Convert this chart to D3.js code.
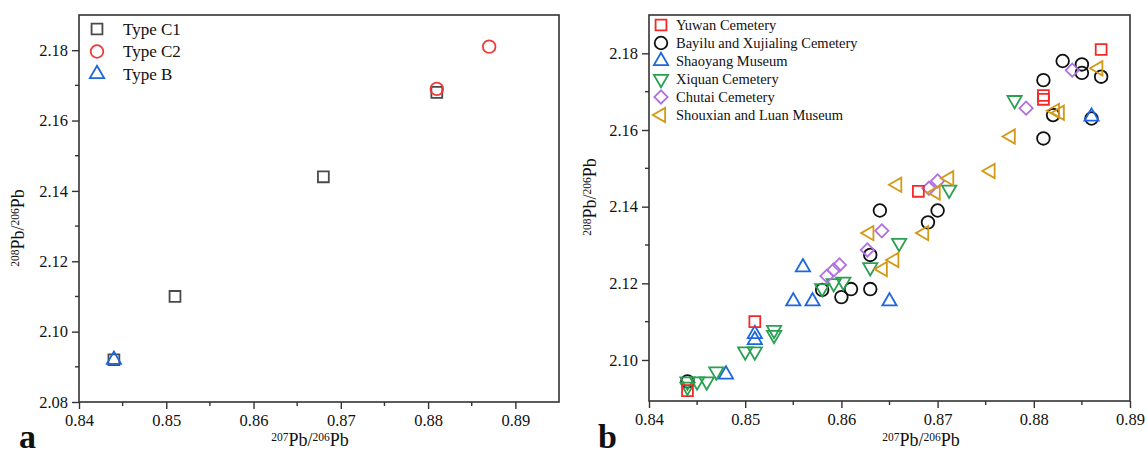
<!DOCTYPE html>
<html>
<head>
<meta charset="utf-8">
<script src="https://cdn.jsdelivr.net/npm/d3@7"></script>
<style>
  body { margin: 0; background: #fff; }
  text { font-family: "Liberation Serif", "Times New Roman", serif; fill: #111; }
</style>
</head>
<body>
<svg id="chart" width="1148" height="457"></svg>
<script>
// ---- panel a : types ----
const typeC1 = [[0.844, 2.092], [0.851, 2.110], [0.868, 2.144], [0.881, 2.168]];
const typeC2 = [[0.881, 2.169], [0.887, 2.181]];
const typeB  = [[0.844, 2.092]];

// ---- panel b : sites ----
const yuwan = [[0.844, 2.092], [0.851, 2.110], [0.868, 2.144], [0.881, 2.168], [0.881, 2.169], [0.887, 2.181]];
const bayilu = [[0.844, 2.0944], [0.858, 2.1183], [0.860, 2.1164], [0.861, 2.1185], [0.863, 2.1185], [0.863, 2.1274],
  [0.864, 2.139], [0.869, 2.1359], [0.870, 2.139], [0.881, 2.1578], [0.882, 2.1639], [0.886, 2.163],
  [0.881, 2.173], [0.883, 2.178], [0.885, 2.1771], [0.885, 2.1749], [0.887, 2.1739]];
const shaoyang = [[0.848, 2.0962], [0.851, 2.1052], [0.851, 2.1068], [0.855, 2.1153], [0.857, 2.1153],
  [0.856, 2.1242], [0.865, 2.1153], [0.886, 2.1635]];
const xiquan = [[0.844, 2.093], [0.844, 2.0944], [0.845, 2.0944], [0.846, 2.0944], [0.847, 2.097],
  [0.850, 2.1022], [0.851, 2.1022], [0.853, 2.1065], [0.853, 2.1078], [0.858, 2.1187], [0.8592, 2.12],
  [0.8602, 2.1204], [0.863, 2.1242], [0.866, 2.1305], [0.8712, 2.1444], [0.878, 2.1678]];
const chutai = [[0.8585, 2.1219], [0.8592, 2.1235], [0.8598, 2.1248], [0.8627, 2.1287], [0.8642, 2.1337],
  [0.8691, 2.1448], [0.870, 2.1467], [0.8792, 2.1657], [0.884, 2.1756]];
const shouxian = [[0.8629, 2.1331], [0.8643, 2.1237], [0.8655, 2.1261], [0.8658, 2.1457], [0.8686, 2.1331],
  [0.8698, 2.1437], [0.8712, 2.1474], [0.8755, 2.1493], [0.8776, 2.1583], [0.8822, 2.165], [0.8827, 2.1645],
  [0.8867, 2.1761]];

const xTicks = [0.84, 0.85, 0.86, 0.87, 0.88, 0.89];
const xMinor = [0.845, 0.855, 0.865, 0.875, 0.885];
const yTicks = [2.08, 2.10, 2.12, 2.14, 2.16, 2.18];
const yMinor = [2.09, 2.11, 2.13, 2.15, 2.17];

const svg = d3.select("#chart");
const serif = "Liberation Serif";

// marker shapes
const shapes = {
  square:   { type: d3.symbolSquare,   size: 118, rot: 0 },
  circle:   { type: d3.symbolCircle,   size: 125, rot: 0 },
  up:       { type: d3.symbolTriangle, size: 88,  rot: 0 },
  down:     { type: d3.symbolTriangle, size: 88,  rot: 180 },
  left:     { type: d3.symbolTriangle, size: 88,  rot: -90 },
  diamond:  { type: d3.symbolSquare,   size: 88,  rot: 45 }
};

function marker(g, shape, color, x, y) {
  const s = shapes[shape];
  g.append("path")
    .attr("d", d3.symbol().type(s.type).size(s.size)())
    .attr("transform", `translate(${x},${y}) rotate(${s.rot})`)
    .attr("fill", "none")
    .attr("stroke", color)
    .attr("stroke-width", 1.8);
}

function pbLabel(g, top, x, y, rotate, size) {
  const t = g.append("text")
    .attr("transform", `translate(${x},${y})` + (rotate ? " rotate(-90)" : ""))
    .attr("text-anchor", "middle")
    .style("font-size", size + "px");
  t.append("tspan").style("font-size", (size * 0.64) + "px").attr("baseline-shift", "45%").text(top);
  t.append("tspan").text("Pb/");
  t.append("tspan").style("font-size", (size * 0.64) + "px").attr("baseline-shift", "45%").text("206");
  t.append("tspan").text("Pb");
}

function panel(cfg) {
  const x = d3.scaleLinear().domain(cfg.xDomain).range([cfg.left, cfg.right]);
  const y = d3.scaleLinear().domain(cfg.yDomain).range([cfg.bottom, cfg.top]);
  const g = svg.append("g");

  // minor ticks
  g.append("g").selectAll("line").data(xMinor).enter().append("line")
    .attr("x1", d => x(d)).attr("x2", d => x(d))
    .attr("y1", cfg.bottom).attr("y2", cfg.bottom + 4)
    .attr("stroke", "#333").attr("stroke-width", 1.4);
  g.append("g").selectAll("line").data(yMinor.filter(d => d > cfg.yDomain[0] + 0.002)).enter().append("line")
    .attr("y1", d => y(d)).attr("y2", d => y(d))
    .attr("x1", cfg.left).attr("x2", cfg.left - 4)
    .attr("stroke", "#333").attr("stroke-width", 1.4);

  const xAxis = g.append("g").attr("transform", `translate(0,${cfg.bottom})`)
    .call(d3.axisBottom(x).tickValues(xTicks).tickFormat(d3.format(".2f")).tickSize(7).tickPadding(5));
  const yAxis = g.append("g").attr("transform", `translate(${cfg.left},0)`)
    .call(d3.axisLeft(y).tickValues(yTicks.filter(d => d >= cfg.yDomain[0])).tickFormat(d3.format(".2f")).tickSize(7).tickPadding(4));
  [xAxis, yAxis].forEach(a => {
    a.attr("font-family", serif).attr("font-size", 16.5);
    a.select(".domain").remove();
    a.selectAll("line").attr("stroke", "#333").attr("stroke-width", 1.4);
    a.selectAll("text").attr("fill", "#111").attr("font-family", serif)
      .style("font-family", serif).style("font-size", "16.5px");
  });

  // frame
  g.append("rect")
    .attr("x", cfg.left).attr("y", cfg.top)
    .attr("width", cfg.right - cfg.left).attr("height", cfg.bottom - cfg.top)
    .attr("fill", "none").attr("stroke", "#333").attr("stroke-width", 1.6);

  cfg.series.forEach(s => {
    s.data.forEach(d => marker(g, s.shape, s.color, x(d[0]), y(d[1])));
  });

  // legend
  cfg.legend.forEach((s, i) => {
    const ly = cfg.legendY + i * cfg.legendStep;
    marker(g, s.shape, s.color, cfg.legendX, ly);
    g.append("text").attr("x", cfg.legendX + cfg.legendGap).attr("y", ly)
      .attr("dy", "0.33em").style("font-size", cfg.legendFont + "px").text(s.name);
  });

  pbLabel(g, "207", cfg.xTitleX, 446, false, 18);
  pbLabel(g, "208", cfg.yTitleX, cfg.yTitleY, true, 18);

  g.append("text").attr("x", cfg.tagX).attr("y", 448)
    .style("font-size", "34px").style("font-weight", "bold").attr("fill", "#000").text(cfg.tag);
}

const seriesA = [
  { name: "Type C1", data: typeC1, shape: "square", color: "#4a4a4a" },
  { name: "Type C2", data: typeC2, shape: "circle", color: "#f03a3a" },
  { name: "Type B",  data: typeB,  shape: "up",     color: "#1e66e0" }
];

panel({
  left: 79, right: 559, top: 15, bottom: 402,
  xDomain: [0.84, 0.895], yDomain: [2.08, 2.19],
  series: seriesA, legend: seriesA,
  legendX: 97, legendY: 29, legendStep: 22.5, legendGap: 26, legendFont: 17,
  xTitleX: 310, yTitleX: 24, yTitleY: 228, tag: "a", tagX: 19
});

const legendB = [
  { name: "Yuwan Cemetery", data: yuwan, shape: "square", color: "#f52828" },
  { name: "Bayilu and Xujialing Cemetery", data: bayilu, shape: "circle", color: "#111" },
  { name: "Shaoyang Museum", data: shaoyang, shape: "up", color: "#1e66e0" },
  { name: "Xiquan Cemetery", data: xiquan, shape: "down", color: "#2aa052" },
  { name: "Chutai Cemetery", data: chutai, shape: "diamond", color: "#b070e0" },
  { name: "Shouxian and Luan Museum", data: shouxian, shape: "left", color: "#d49a16" }
];
// draw red squares last so they sit on top
const seriesB = legendB.slice(1).concat([legendB[0]]);

panel({
  left: 649, right: 1130, top: 15, bottom: 401,
  xDomain: [0.84, 0.89], yDomain: [2.0893, 2.19],
  series: seriesB, legend: legendB,
  legendX: 661, legendY: 25, legendStep: 18, legendGap: 15, legendFont: 14.5,
  xTitleX: 921, yTitleX: 596, yTitleY: 197, tag: "b", tagX: 598
});
</script>
</body>
</html>
